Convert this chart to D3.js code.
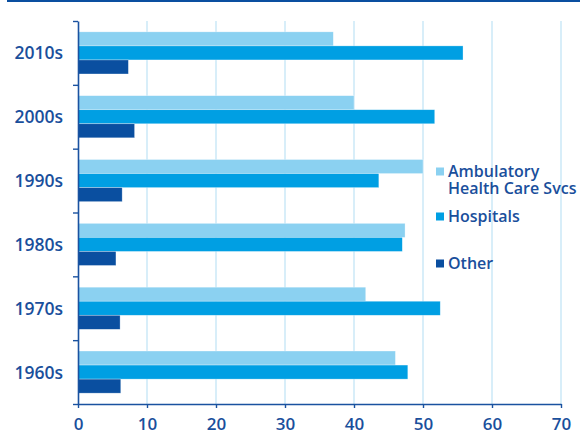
<!DOCTYPE html>
<html><head><meta charset="utf-8">
<script src="https://cdn.jsdelivr.net/npm/d3@7"></script>
<style>html,body{margin:0;padding:0;background:#fff;}svg{display:block;}</style>
</head><body>
<svg id="chart" width="580" height="436"></svg>
<script>
const categories = ["2010s", "2000s", "1990s", "1980s", "1970s", "1960s"];
const seriesNames = ["Ambulatory Health Care Svcs", "Hospitals", "Other"];
const ambulatory = [37.0, 40.0, 50.0, 47.4, 41.7, 46.0];
const hospitals  = [55.8, 51.7, 43.6, 47.0, 52.5, 47.8];
const other      = [7.3, 8.2, 6.4, 5.5, 6.1, 6.2];
const xTicks = [0, 10, 20, 30, 40, 50, 60, 70];
const colors = ["#8bd1f1", "#009fe3", "#0a4fa0"];

(function() {
const series = [ambulatory, hospitals, other];
const svg = d3.select("#chart");
const font = "'Open Sans', sans-serif";
const textColor = "#1a4f9c";
const axisColor = "#1a52a0";

const mLeft = 78, mRight = 561, mTop = 21, mBottom = 404;
const x = d3.scaleLinear().domain([0, 70]).range([mLeft, mRight]);
const y = d3.scaleBand().domain(categories).range([mTop, mBottom]).paddingInner(0.34).paddingOuter(0.17);
const ySub = d3.scaleBand().domain(seriesNames).range([0, y.bandwidth()]);

// top rule
svg.append("line").attr("x1", 7).attr("x2", 580).attr("y1", 1).attr("y2", 1)
  .attr("stroke", "#0a4fa0").attr("stroke-width", 2);

// grid
svg.append("g").selectAll("line").data(xTicks.filter(d => d > 0)).join("line")
  .attr("x1", d => x(d)).attr("x2", d => x(d)).attr("y1", mTop).attr("y2", mBottom)
  .attr("stroke", "#cbe9f7").attr("stroke-width", 1.5);

// bars
const groups = svg.append("g").selectAll("g").data(categories).join("g")
  .attr("transform", d => `translate(0,${y(d)})`);
groups.each(function(cat, i) {
  d3.select(this).selectAll("rect").data(seriesNames).join("rect")
    .attr("x", x(0))
    .attr("y", s => ySub(s))
    .attr("height", ySub.bandwidth())
    .attr("width", (s, j) => x(series[j][i]) - x(0))
    .attr("fill", (s, j) => colors[j])
    .attr("stroke", "#ffffff").attr("stroke-opacity", 0.5).attr("stroke-width", 0.6);
});

// y axis
const yAxisScale = d3.scaleLinear().domain([0, 6]).range([mTop, mBottom]);
const yAxis = svg.append("g").attr("transform", `translate(${mLeft},0)`)
  .call(d3.axisLeft(yAxisScale).tickValues(d3.range(7)).tickSize(5).tickSizeOuter(0).tickFormat(""));
yAxis.select(".domain").attr("stroke", axisColor).attr("stroke-width", 1.6);
yAxis.selectAll(".tick line").attr("stroke", axisColor).attr("stroke-width", 1.4);

svg.append("g").selectAll("text").data(categories).join("text")
  .attr("x", 63).attr("y", d => y(d) + y.bandwidth() / 2 + 6.5)
  .attr("text-anchor", "end").attr("font-family", font).attr("font-size", 17.5)
  .attr("font-weight", 600).attr("fill", textColor).text(d => d);

// x axis
const xAxis = svg.append("g").attr("transform", `translate(0,${mBottom})`)
  .call(d3.axisBottom(x).tickValues(xTicks).tickSize(4).tickSizeOuter(0).tickPadding(10));
xAxis.select(".domain").attr("stroke", axisColor).attr("stroke-width", 1.6);
xAxis.selectAll(".tick line").attr("stroke", axisColor).attr("stroke-width", 1.4);
xAxis.selectAll(".tick text").attr("font-family", font).attr("font-size", 17)
  .attr("font-weight", 600).attr("fill", textColor);

// legend
const legendItems = [
  {lines: ["Ambulatory", "Health Care Svcs"], y: 177},
  {lines: ["Hospitals"], y: 222},
  {lines: ["Other"], y: 269}
];
const lg = svg.append("g");
legendItems.forEach((it, i) => {
  lg.append("rect").attr("x", 436).attr("y", it.y - 9.5).attr("width", 8).attr("height", 8)
    .attr("fill", colors[i]);
  it.lines.forEach((l, k) => {
    lg.append("text").attr("x", 448).attr("y", it.y + k * 16.5)
      .attr("font-family", font).attr("font-size", 16).attr("font-weight", 600)
      .attr("fill", textColor).text(l);
  });
});
})();
</script>
</body></html>
